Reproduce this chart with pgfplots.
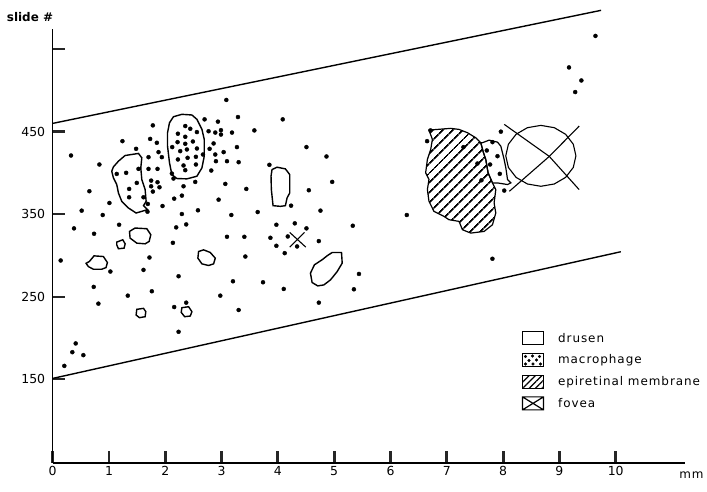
\documentclass[border=0pt]{standalone}
\usepackage{fontspec}
\setmainfont{DejaVu Sans}
\newfontfamily\legfont[LetterSpace=8]{DejaVu Sans}
\usepackage{pgfplots}
\pgfplotsset{compat=1.18}
\usetikzlibrary{patterns.meta}
\begin{document}
\begin{tikzpicture}
\begin{axis}[
  scale only axis, width=632.3bp, height=433.7bp,
  xmin=0, xmax=11.23, ymin=48.5, ymax=574,
  axis x line*=bottom, axis y line*=left,
  axis line style={line width=1.5bp},
  clip=false,
  xtick={0,1,2,3,4,5,6,7,8,9,10}, ytick={150,250,350,450,550},
  yticklabels={150,250,350,450,{}},
  tick align=inside,
  major tick length=12bp,
  xtick style={line width=2.8bp, black!85},
  ytick style={line width=2.4bp, black!85},
  ticklabel style={font=\fontsize{12.5}{14}\selectfont},
  yticklabel style={xshift=-4bp},
  /pgf/number format/assume math mode=true,
  legend cell align=left,
  legend style={draw=none, fill=none, at={(axis cs:8.33,208.5)}, anchor=north west,
    font=\legfont\fontsize{12}{14}\selectfont, row sep=7.5bp, inner sep=0pt,
    nodes={inner sep=0bp}, /tikz/every odd column/.append style={column sep=14bp}},
]
% legend
\addlegendimage{legend image code/.code={\draw[line width=1.2bp] (0bp,-6.5bp) rectangle (21bp,6.5bp);}}
\addlegendentry{drusen}
\addlegendimage{legend image code/.code={\draw[line width=1.2bp] (0bp,-6.5bp) rectangle (21bp,6.5bp);
  \foreach \p in {(3bp,3.5bp),(10bp,4bp),(17bp,3.5bp),(6.5bp,-0.5bp),(14bp,0bp),(3bp,-4bp),(18bp,-4bp),(10.5bp,-4bp)} \fill \p circle (1.4bp);}}
\addlegendentry{macrophage}
\addlegendimage{legend image code/.code={\draw[line width=1.2bp, pattern={Lines[angle=45,distance=4.5bp,line width=1.2bp]}] (0bp,-6.5bp) rectangle (21bp,6.5bp);}}
\addlegendentry{epiretinal membrane}
\addlegendimage{legend image code/.code={\draw[line width=1.2bp] (0bp,-6.5bp) rectangle (21bp,6.5bp) (0bp,-6.5bp) -- (21bp,6.5bp) (0bp,6.5bp) -- (21bp,-6.5bp);}}
\addlegendentry{fovea}

% boundary lines
\addplot[black, line width=1.4bp, forget plot] coordinates {(0,460) (9.74,597)};
\addplot[black, line width=1.4bp, forget plot] coordinates {(0,151) (10.09,304.5)};

% epiretinal membrane
\addplot[draw=black, line width=1.2bp, pattern={Lines[angle=45,distance=6.8bp,line width=2bp]}, forget plot] coordinates {
(6.683,451.9) (6.833,452.7) (7.069,454.0) (7.217,452.7) (7.367,448.7) (7.514,442.6) (7.603,436.6)
(7.651,424.4) (7.692,416.3) (7.733,400.1) (7.811,387.9) (7.870,379.8) (7.840,363.6) (7.870,351.5)
(7.811,337.2) (7.662,329.1) (7.425,327.1) (7.277,331.2) (7.217,341.3) (7.039,343.3) (6.950,347.3)
(6.772,353.4) (6.683,365.6) (6.655,379.8) (6.683,392.0) (6.624,400.1) (6.655,416.3) (6.714,428.4)
(6.744,440.6)} --cycle;
% macrophage region
\addplot[draw=black, line width=1.2bp, forget plot] coordinates {
(7.603,436.6) (7.633,436.6) (7.751,439.7) (7.900,437.3) (7.959,432.4) (7.989,424.4) (8.018,416.3)
(8.048,406.2) (8.078,392.0) (8.137,387.9) (8.078,385.9) (7.900,387.9) (7.811,387.9) (7.733,400.1)
(7.692,416.3) (7.651,424.4)} --cycle;
% fovea
\addplot[draw=black, line width=1.1bp, forget plot] coordinates {
(9.293,420.7) (9.246,434.8) (9.110,446.8) (8.909,454.8) (8.670,457.6) (8.431,454.8) (8.230,446.8)
(8.094,434.8) (8.047,420.7) (8.094,406.6) (8.230,394.6) (8.431,386.6) (8.670,383.8) (8.909,386.6)
(9.110,394.6) (9.246,406.6)} --cycle;
\addplot[black, line width=1.1bp, forget plot] coordinates {(8.02,458.8) (8.82,420) (9.35,379.8)};
\addplot[black, line width=1.1bp, forget plot] coordinates {(8.11,377.7) (8.82,420) (9.35,456.7)};

% small X
\addplot[black, line width=1.1bp, forget plot] coordinates {(4.210,327.9) (4.495,310.1)};
\addplot[black, line width=1.1bp, forget plot] coordinates {(4.210,310.1) (4.472,327.9)};

% drusen
\pgfplotsset{drus/.style={black, line width=1.4bp, forget plot}}
\addplot[drus] coordinates {(1.079,407.3) (1.168,414.2) (1.286,421.1) (1.524,423.6) (1.583,418.3) (1.565,406.1) (1.583,392.0) (1.642,379.8) (1.660,365.6) (1.613,360.3) (1.684,355.5) (1.482,351.4) (1.346,357.5) (1.227,365.6) (1.168,375.7) (1.138,385.9) (1.079,394.0) (1.049,402.1)} --cycle;
\addplot[drus] coordinates {(2.075,460.8) (2.146,468.1) (2.295,471.0) (2.473,470.2) (2.562,464.9) (2.651,452.8) (2.692,440.6) (2.692,420.3) (2.651,406.1) (2.562,396.0) (2.384,392.8) (2.206,393.2) (2.117,398.0) (2.075,412.2) (2.040,432.5) (2.040,448.7)} --cycle;
\addplot[drus] coordinates {(3.896,404.1) (3.985,406.9) (4.133,404.9) (4.210,398.0) (4.210,375.7) (4.163,369.7) (4.133,360.3) (4.044,359.5) (3.914,360.3) (3.884,379.8) (3.878,396.0)} --cycle;
\addplot[drus] coordinates {(1.364,329.1) (1.464,333.2) (1.672,332.4) (1.743,325.1) (1.714,317.0) (1.642,314.1) (1.494,314.9) (1.375,321.0)} --cycle;
\addplot[drus] coordinates {(1.138,316.2) (1.245,319.0) (1.287,314.1) (1.269,308.9) (1.168,308.1) (1.138,312.9)} --cycle;
\addplot[drus] coordinates {(0.652,292.7) (0.735,299.5) (0.901,298.7) (0.972,291.4) (0.948,285.3) (0.871,283.3) (0.723,283.3) (0.634,286.5) (0.593,290.5)} --cycle;
\addplot[drus] coordinates {(2.591,304.8) (2.680,306.8) (2.799,303.6) (2.888,296.7) (2.858,289.8) (2.769,287.8) (2.651,289.8) (2.579,296.7)} --cycle;
\addplot[drus] coordinates {(1.494,234.7) (1.613,235.9) (1.654,231.9) (1.642,225.8) (1.541,224.6) (1.482,227.8)} --cycle;
\addplot[drus] coordinates {(2.295,236.7) (2.414,237.9) (2.473,231.9) (2.444,226.6) (2.343,225.8) (2.283,231.1)} --cycle;
\addplot[drus] coordinates {(4.964,303.6) (5.130,303.6) (5.142,290.7) (5.053,280.5) (4.934,270.4) (4.815,264.3) (4.708,263.1) (4.608,267.2) (4.578,278.5) (4.649,288.7) (4.786,294.8) (4.875,299.6)} --cycle;

% dots
\addplot[only marks, mark=*, mark size=2bp, black, forget plot] table {
x y
0.326 421.1
0.830 410.2
0.652 377.8
1.008 363.6
0.515 354.3
0.889 349.0
0.379 332.8
1.180 337.2
0.735 326.3
0.142 293.9
1.025 280.5
1.613 282.5
0.729 261.9
0.812 241.6
1.334 251.3
1.761 256.6
0.409 193.4
0.349 182.8
0.545 179.2
0.207 166.2
1.239 438.5
1.482 429.2
1.779 457.6
1.731 441.2
1.850 436.5
1.880 425.2
1.939 419.1
1.702 419.1
1.702 404.9
1.862 404.9
1.749 390.7
1.862 388.7
1.749 383.8
1.897 382.6
1.779 377.4
1.690 362.4
1.951 359.9
1.684 353.0
1.719 297.5
1.138 398.8
1.305 400.1
1.524 404.9
1.358 380.6
1.494 387.9
1.358 370.5
1.613 370.5
2.355 456.8
2.444 453.5
2.562 449.5
2.224 447.5
2.355 443.8
2.490 438.1
2.218 437.3
2.355 435.3
2.123 431.3
2.265 426.4
2.384 428.4
2.562 429.6
2.669 422.3
2.396 418.3
2.544 419.5
2.224 416.3
2.324 409.0
2.544 410.2
2.355 403.3
2.117 399.2
2.146 393.2
3.084 488.4
2.698 464.9
2.935 462.1
3.291 467.7
4.086 464.9
3.582 451.5
3.185 448.9
2.769 450.5
2.888 448.9
2.989 451.8
2.989 446.5
4.507 431.3
4.863 419.9
3.273 431.3
3.036 425.2
2.888 422.3
2.787 429.2
2.858 435.7
3.096 414.2
3.303 413.0
2.900 414.2
3.849 409.8
4.964 389.1
2.817 402.9
2.532 389.1
3.066 386.7
3.439 380.6
4.549 379.0
2.324 383.8
2.158 368.8
2.295 372.5
2.947 367.6
4.234 360.3
2.295 350.2
2.580 354.7
3.173 349.0
3.641 352.6
4.756 354.3
2.194 334.0
2.372 337.6
3.973 337.2
4.300 338.9
4.507 332.8
2.135 315.3
3.096 322.6
3.404 322.6
3.867 321.4
4.175 323.0
4.341 310.9
3.973 311.7
4.727 317.4
3.422 298.7
4.121 302.8
2.236 274.8
3.202 268.7
3.736 267.5
4.104 259.4
2.977 251.3
2.372 242.8
2.158 237.5
4.727 242.8
3.303 233.9
2.236 207.5
5.330 336.0
5.440 277.6
5.350 259.0
6.290 349.0
6.710 451.5
6.650 438.5
7.960 450.0
8.020 378.6
7.810 296.0
9.640 566.0
9.170 527.8
9.390 512.0
9.280 498.0
7.710 427.2
7.900 420.3
7.769 410.2
7.941 398.9
7.544 411.4
7.615 391.1
7.295 431.2
7.811 437.3
};

\node[font=\bfseries\fontsize{12}{14}\selectfont] at (rel axis cs:-0.0359,1.029) {slide \#};
\node[font=\legfont\fontsize{12}{14}\selectfont] at (rel axis cs:1.0103,-0.0277) {mm};
\path (rel axis cs:-0.0833,-0.0646) rectangle (rel axis cs:1.0348,1.0676);
\end{axis}
\end{tikzpicture}
\end{document}
